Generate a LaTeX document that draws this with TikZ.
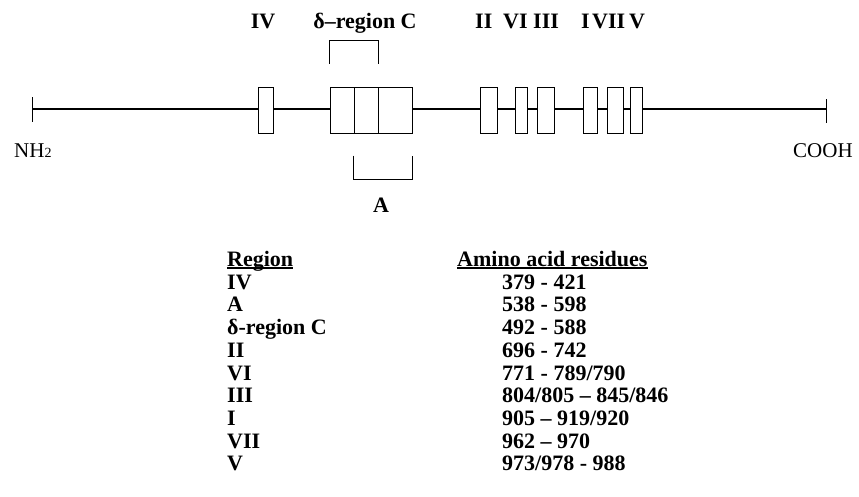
\documentclass[tikz,border=0pt]{standalone}
\usepackage{fontspec}
\setmainfont{Liberation Serif}
\usetikzlibrary{positioning}

\tikzset{
    backbone/.style={
        line width=2.4pt
    },
    endtick/.style={
        line width=1pt
    },
    motif/.style={
        draw,
        rectangle,
        fill=white,
        line width=1pt,
        inner sep=0pt,
        minimum height=46pt
    },
    bracket/.style={
        line width=1pt
    },
    lbl/.style={
        font=\bfseries\fontsize{22}{26}\selectfont,
        inner sep=0pt
    },
    term/.style={
        font=\fontsize{21}{25}\selectfont,
        inner sep=0pt
    }
}

\begin{document}
\begin{tikzpicture}[x=1pt,y=-1pt]
    \useasboundingbox (0,0) rectangle (859,496);

    % Kette mit N- und C-Terminus
    \coordinate (nterm) at ( 32,109);
    \coordinate (cterm) at (826,109);
    \draw[backbone] (nterm) -- (cterm);
    \draw[endtick] ([yshift=12pt]nterm) -- ([yshift=-13pt]nterm);
    \draw[endtick] ([yshift=10pt]cterm) -- ([yshift=-14pt]cterm);

    % Konservierte Regionen
    \path
        node[motif, minimum width=15pt] at (265.5,110) (IV)  {}
        node[motif, minimum width=24pt] at (342  ,110) (C1)  {}
        node[motif, minimum width=24pt] at (366  ,110) (C2)  {}
        node[motif, minimum width=34pt] at (395  ,110) (C3)  {}
        node[motif, minimum width=17pt] at (488.5,110) (II)  {}
        node[motif, minimum width=12pt] at (521  ,110) (VI)  {}
        node[motif, minimum width=17pt] at (545.5,110) (III) {}
        node[motif, minimum width=14pt] at (590  ,110) (I)   {}
        node[motif, minimum width=16pt] at (615  ,110) (VII) {}
        node[motif, minimum width=12pt] at (636  ,110) (V)   {};

    % Klammern fuer delta-Region C und A
    \draw[bracket]
        ([yshift=23pt]C1.north west) -- ([yshift=46pt]C1.north west)
        -- ([yshift=46pt]C2.north east) -- ([yshift=23pt]C2.north east);
    \draw[bracket]
        ([yshift=-22pt]C2.south west) -- ([yshift=-46pt]C2.south west)
        -- ([yshift=-46pt]C3.south east) -- ([yshift=-22pt]C3.south east);

    % Beschriftungen
    \path
        node[lbl, anchor=base]      at (263,28) (lIV)  {IV}
        node[lbl, anchor=base]      at (365,28) (lC)   {δ--region C}
        node[lbl, anchor=base west] at (475,28) (lII)  {II}
        node[lbl, anchor=base west] at (503,28) (lVI)  {VI}
        node[lbl, anchor=base west] at (533,28) (lIII) {III}
        node[lbl, anchor=base west] at (581,28) (lI)   {I}
        node[lbl, anchor=base west] at (592,28) (lVII) {VII}
        node[lbl, anchor=base west] at (629,28) (lV)   {V}
        node[lbl, anchor=base]      at (381,212) (lA)  {A}
        node[term, anchor=base west] at (14,157)  (nh)  {NH{\fontsize{14}{14}\selectfont 2}}
        node[term, anchor=base west] at (793,157) (cooh) {COOH};

    % Tabelle
    \path
        node[lbl, anchor=base west] at (227,266) (hreg) {Region}
        node[lbl, anchor=base west] at (457,266) (hres) {Amino acid residues};
    \draw[line width=1.4pt] ([yshift=-2pt]hreg.base west) -- ([yshift=-2pt]hreg.base east);
    \draw[line width=1.4pt] ([yshift=-2pt]hres.base west) -- ([yshift=-2pt]hres.base east);

    \path
        node[lbl, anchor=base west] at (227,289) (rIV)  {IV}
        node[lbl, anchor=base west] at (227,311) (rA)   {A}
        node[lbl, anchor=base west] at (227,334) (rC)   {δ-region C}
        node[lbl, anchor=base west] at (227,357) (rII)  {II}
        node[lbl, anchor=base west] at (227,380) (rVI)  {VI}
        node[lbl, anchor=base west] at (227,402) (rIII) {III}
        node[lbl, anchor=base west] at (227,425) (rI)   {I}
        node[lbl, anchor=base west] at (227,448) (rVII) {VII}
        node[lbl, anchor=base west] at (227,470) (rV)   {V};

    \path
        node[lbl, anchor=base west] at (502,289) (vIV)  {379 - 421}
        node[lbl, anchor=base west] at (502,311) (vA)   {538 - 598}
        node[lbl, anchor=base west] at (502,334) (vC)   {492 - 588}
        node[lbl, anchor=base west] at (502,357) (vII)  {696 - 742}
        node[lbl, anchor=base west] at (502,380) (vVI)  {771 - 789/790}
        node[lbl, anchor=base west] at (502,402) (vIII) {804/805 -- 845/846}
        node[lbl, anchor=base west] at (502,425) (vI)   {905 -- 919/920}
        node[lbl, anchor=base west] at (502,448) (vVII) {962 -- 970}
        node[lbl, anchor=base west] at (502,470) (vV)   {973/978 - 988};
\end{tikzpicture}
\end{document}
